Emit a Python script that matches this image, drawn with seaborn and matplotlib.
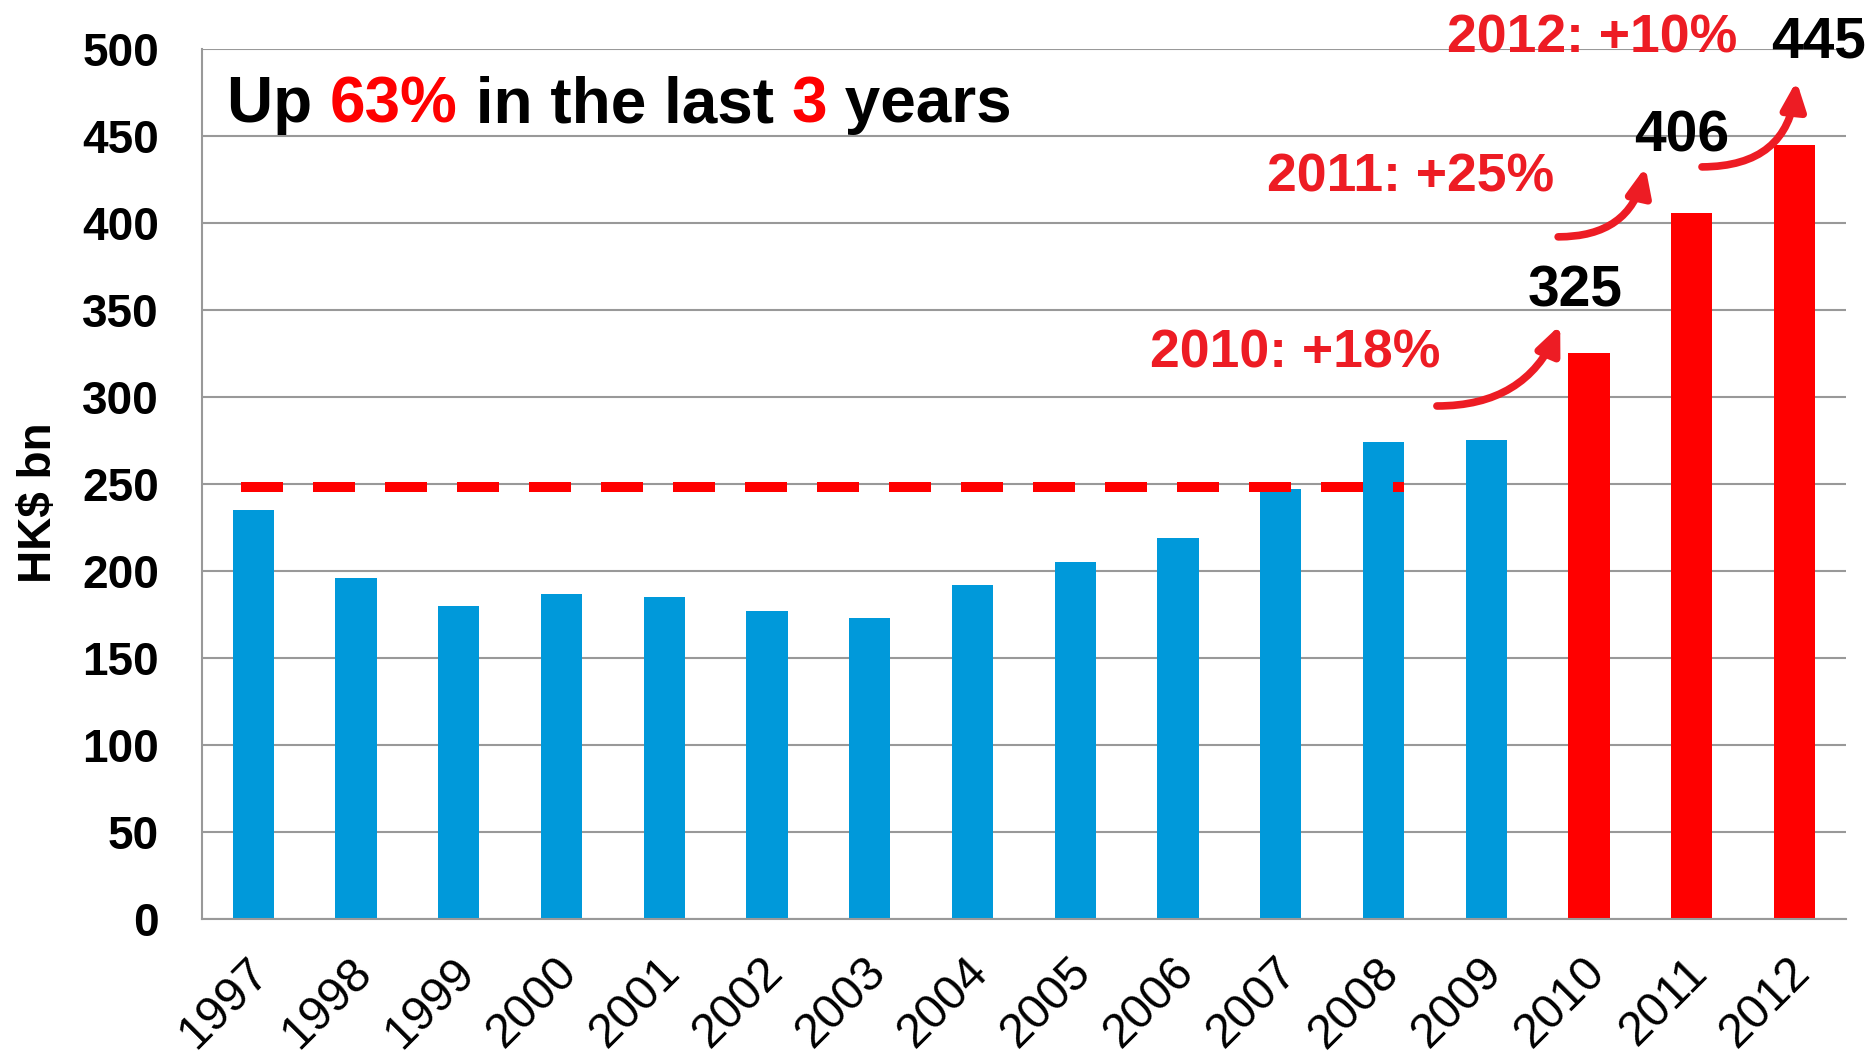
import numpy as np
import matplotlib
matplotlib.use("Agg")
import matplotlib.pyplot as plt
import matplotlib.transforms as mtransforms
import seaborn as sns

# data
years = [str(y) for y in range(1997, 2013)]
values = [235, 196, 180, 187, 185, 177, 173, 192, 205, 219, 247, 274, 275, 325, 406, 445]
highlight_years = ["2010", "2011", "2012"]
growth_labels = ["2010: +18%", "2011: +25%", "2012: +10%"]
threshold = 248
y_ticks = list(range(0, 501, 50))

BLUE = "#0099DA"
RED = "#FF0000"
TEXT_RED = "#ED1C24"
GREY = "#999999"

sns.set_style("white")
plt.rcParams["font.family"] = ["Liberation Sans", "DejaVu Sans"]
plt.rcParams["text.color"] = "black"
plt.rcParams["axes.labelcolor"] = "black"
plt.rcParams["xtick.labelcolor"] = "black"
plt.rcParams["ytick.labelcolor"] = "black"

fig = plt.figure(figsize=(18.73, 10.57), dpi=100)
ax = fig.add_axes([0.1078, 0.1306, 0.8777, 0.8231])

palette = {y: (RED if y in highlight_years else BLUE) for y in years}
sns.barplot(x=years, y=values, hue=years, palette=palette, width=0.4,
            saturation=1, legend=False, linewidth=0, ax=ax)

ax.set_xlim(-0.5, len(years) - 0.5)
ax.set_ylim(0, 500)
ax.set_xlabel("")

# y axis
ax.set_yticks(y_ticks)
ax.set_yticklabels([str(t) for t in y_ticks], fontweight="bold")
ax.tick_params(axis="y", length=10, width=1.5, color=GREY, pad=21,
               labelsize=33, labelcolor="black")
ax.yaxis.grid(True, color=GREY, lw=1.5)
ax.set_axisbelow(True)
ax.set_ylabel("HK$ bn", fontsize=33, fontweight="bold", color="black")
ax.yaxis.set_label_coords(-0.086, 0.479)

# x axis: ticks between categories, labels at centres
ax.set_xticks(np.arange(-0.5, len(years), 1))
ax.set_xticklabels([])
ax.set_xticks(range(len(years)), minor=True)
ax.set_xticklabels(years, minor=True, rotation=45, ha="right",
                   rotation_mode="anchor", fontsize=34.5, color="black")
ax.tick_params(axis="x", which="major", length=10, width=1.5, color=GREY)
ax.tick_params(axis="x", which="minor", length=0, pad=22)
shift = mtransforms.ScaledTranslation(-0.07, 0, fig.dpi_scale_trans)
for lbl in ax.get_xticklabels(minor=True):
    lbl.set_transform(lbl.get_transform() + shift)

for s in ["top", "right"]:
    ax.spines[s].set_visible(False)
for s in ["left", "bottom"]:
    ax.spines[s].set_color(GREY)
    ax.spines[s].set_linewidth(1.5)

# dashed reference line up to 2008
ax.hlines(threshold, -0.12, years.index("2008") + 0.2, colors=RED, lw=7.2,
          linestyles=(0, (4.2, 3.0)), capstyle="butt", zorder=3)

# headline with coloured words
pieces = [("Up ", "black"), ("63%", RED), (" in the last ", "black"),
          ("3", RED), (" years", "black")]
prev = ax.text(0.0152, 0.916, pieces[0][0], transform=ax.transAxes,
               fontsize=46, fontweight="bold", va="baseline", ha="left",
               color=pieces[0][1])
for txt, col in pieces[1:]:
    prev = ax.annotate(txt, xy=(1, 0), xycoords=prev, va="bottom", ha="left",
                       fontsize=46, fontweight="bold", color=col)

# growth annotations
growth_pos = [(10.14, 316.7), (11.26, 417.8), (13.03, 497.7)]
value_pos = [(12.87, 351.7), (13.90, 440.8), (15.23, 494.8)]
arrow_tails = [(11.52, 294.8), (12.70, 392.0), (14.10, 432.2)]
arrow_heads = [(12.72, 341.4), (13.55, 432.2), (15.02, 481.6)]
arrow_rads = [0.33, 0.40, 0.45]

for i, yr in enumerate(highlight_years):
    ax.text(*growth_pos[i], growth_labels[i], color=TEXT_RED, fontsize=38.5,
            fontweight="bold", ha="center", va="baseline", clip_on=False)
    ax.text(*value_pos[i], str(values[years.index(yr)]), color="black",
            fontsize=41, fontweight="bold", ha="center", va="baseline",
            clip_on=False)
    ax.annotate("", xy=arrow_heads[i], xytext=arrow_tails[i],
                arrowprops=dict(arrowstyle="-|>,head_length=0.55,head_width=0.24",
                                connectionstyle=f"arc3,rad={arrow_rads[i]}",
                                color=TEXT_RED, lw=5.5, mutation_scale=30,
                                shrinkA=0, shrinkB=0))

fig.savefig("out.png", dpi=100)
